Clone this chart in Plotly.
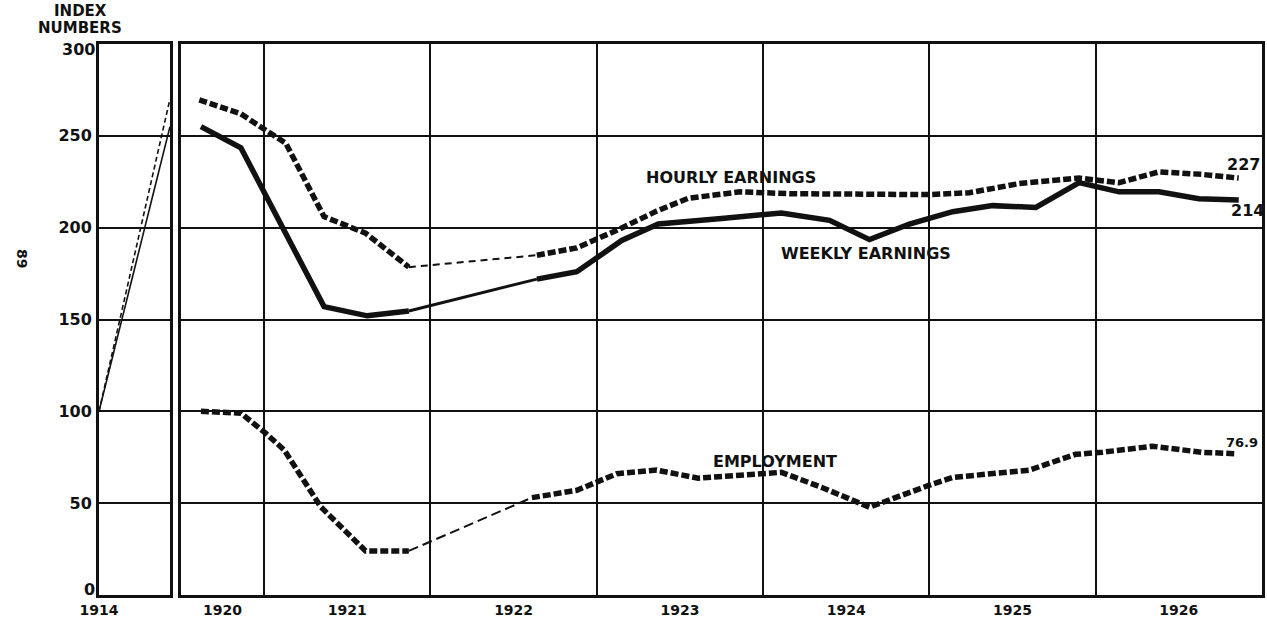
import plotly.graph_objects as go

# ---------------- data (index numbers, 1914 = 100) ----------------
base_years = [1914, 1920]
base_hourly = [100, 270]
base_weekly = [100, 255]

hourly_years = [1920.61, 1920.86, 1921.01, 1921.13, 1921.36, 1921.61, 1921.87,
                1922.64, 1922.88, 1923.13, 1923.36, 1923.55, 1923.86, 1924.16,
                1925.00, 1925.24, 1925.54, 1925.90, 1926.14, 1926.38, 1926.64, 1926.86]
hourly_values = [269.6, 262, 253, 246, 206, 197, 178.5,
                 185, 189, 199, 209, 216, 219.5, 218.5,
                 218, 219, 224, 227, 224.5, 230.4, 229, 227]
hourly_break = 7   # first index after the interpolated (thin) stretch

weekly_years = [1920.62, 1920.86, 1921.36, 1921.62, 1921.87,
                1922.64, 1922.88, 1923.15, 1923.37, 1923.75, 1924.11, 1924.40,
                1924.64, 1924.88, 1925.14, 1925.38, 1925.64, 1925.90, 1926.14,
                1926.38, 1926.62, 1926.86]
weekly_values = [255, 243.5, 157, 152, 154.6,
                 172, 176, 193, 202, 205, 208, 204,
                 193.5, 202, 208.7, 212, 211, 224.5, 219.5,
                 219.5, 215.8, 215]
weekly_break = 5

employment_years = [1920.62, 1920.86, 1921.01, 1921.12, 1921.34, 1921.61, 1921.87,
                    1922.61, 1922.88, 1923.12, 1923.36, 1923.61, 1923.96, 1924.11,
                    1924.35, 1924.64, 1925.00, 1925.14, 1925.60, 1925.88, 1926.04,
                    1926.34, 1926.64, 1926.85]
employment_values = [100, 99, 88, 79, 48, 24, 24,
                     53, 57, 66, 68, 63.6, 66.3, 66.8,
                     58.7, 47.8, 59.8, 64, 68, 76.6, 77.7,
                     81, 77.7, 76.9]
employment_break = 7

year_grid = [1921, 1922, 1923, 1924, 1925, 1926]
year_label_pos = [1920.75, 1921.5, 1922.5, 1923.5, 1924.5, 1925.5, 1926.5]
year_labels = ["1920", "1921", "1922", "1923", "1924", "1925", "1926"]
y_ticks = [0, 50, 100, 150, 200, 250, 300]
y_ticktext = ["", "50", "100", "150", "200", "250", ""]   # 0 and 300 placed inside frame

FONT = "DejaVu Sans"
BLACK = "#111111"

fig = go.Figure()

# ---- left (1914) panel ----
fig.add_trace(go.Scatter(x=base_years, y=base_weekly, mode="lines", xaxis="x", yaxis="y",
                         line=dict(color=BLACK, width=1.6), showlegend=False, hoverinfo="skip"))
fig.add_trace(go.Scatter(x=base_years, y=base_hourly, mode="lines", xaxis="x", yaxis="y",
                         line=dict(color=BLACK, width=1.6, dash="5px,3px"), showlegend=False,
                         hoverinfo="skip"))


def add_series(xs, ys, brk, thick, thin):
    segs = [(xs[:brk], ys[:brk], thick),
            (xs[brk - 1:brk + 1], ys[brk - 1:brk + 1], thin),
            (xs[brk:], ys[brk:], thick)]
    for sx, sy, st in segs:
        fig.add_trace(go.Scatter(x=sx, y=sy, mode="lines", xaxis="x2", yaxis="y2",
                                 line=dict(color=BLACK, **st), showlegend=False,
                                 hoverinfo="skip"))


add_series(hourly_years, hourly_values, hourly_break,
           dict(width=5.5, dash="8px,3px"), dict(width=2, dash="7px,5px"))
add_series(weekly_years, weekly_values, weekly_break,
           dict(width=5.5), dict(width=3))
add_series(employment_years, employment_values, employment_break,
           dict(width=5.5, dash="8px,3px"), dict(width=2, dash="10px,5px"))

axis_common = dict(showline=True, linecolor=BLACK, linewidth=3, mirror=True,
                   zeroline=False, automargin=False, ticks="")

fig.update_layout(
    template="none",
    width=1267, height=619,
    margin=dict(l=99, r=5, t=44, b=24),
    paper_bgcolor="white", plot_bgcolor="white",
    showlegend=False,
    xaxis=dict(domain=[0, 0.061], range=[1914, 1920], tickvals=[1914], ticktext=["1914"],
               showgrid=False, tickfont=dict(family=FONT, size=14, color=BLACK, weight="bold"),
               **axis_common),
    xaxis2=dict(domain=[0.0705, 1], range=[1920.5, 1927], tickvals=year_label_pos,
                ticktext=year_labels, showgrid=False,
                minor=dict(tickmode="array", tickvals=year_grid, showgrid=True,
                           gridcolor=BLACK, gridwidth=2, ticks=""),
                tickfont=dict(family=FONT, size=14, color=BLACK, weight="bold"),
                **axis_common),
    yaxis=dict(anchor="x", range=[0, 300], tickvals=y_ticks, ticktext=y_ticktext,
               showgrid=True, gridcolor=BLACK, gridwidth=2, ticklabelstandoff=1,
               tickfont=dict(family=FONT, size=16, color=BLACK, weight="bold"),
               **axis_common),
    yaxis2=dict(anchor="x2", matches="y", range=[0, 300], tickvals=y_ticks,
                showticklabels=False, showgrid=True, gridcolor=BLACK, gridwidth=2,
                **axis_common),
)

lab = dict(family=FONT, size=16, color=BLACK, weight="bold")
annots = [
    dict(text="HOURLY EARNINGS", x=1923.81, y=227.1),
    dict(text="WEEKLY EARNINGS", x=1924.62, y=185.7),
    dict(text="EMPLOYMENT", x=1924.07, y=72.9),
    dict(text="227", x=1926.89, y=234.2),
    dict(text="214", x=1926.91, y=209.1),
    dict(text="76.9", x=1926.88, y=83.0, size=13),
]
for a in annots:
    f = dict(lab)
    if "size" in a:
        f["size"] = a.pop("size")
    fig.add_annotation(xref="x2", yref="y2", showarrow=False, font=f,
                       xanchor="center", yanchor="middle", **a)

# end tick labels for the y axis (sit just inside the frame, as in the original)
tick_font = dict(family=FONT, size=16, color=BLACK, weight="bold")
fig.add_annotation(xref="paper", yref="paper", x=(97 - 99) / 1163, y=(595 - 49) / 551,
                   text=str(y_ticks[-1]), showarrow=False, xanchor="right",
                   yanchor="middle", font=tick_font)
fig.add_annotation(xref="paper", yref="paper", x=(97 - 99) / 1163, y=(595 - 589) / 551,
                   text=str(y_ticks[0]), showarrow=False, xanchor="right",
                   yanchor="middle", font=tick_font)

fig.add_annotation(xref="paper", yref="paper", x=-0.016, y=(595 - 11) / 551,
                   text="INDEX", showarrow=False, xanchor="center", yanchor="middle",
                   font=dict(family=FONT, size=15, color=BLACK, weight="bold"))
fig.add_annotation(xref="paper", yref="paper", x=-0.016, y=(595 - 28) / 551,
                   text="NUMBERS", showarrow=False, xanchor="center", yanchor="middle",
                   font=dict(family=FONT, size=15, color=BLACK, weight="bold"))
fig.add_annotation(xref="paper", yref="paper", x=(22 - 99) / 1163, y=(595 - 258) / 551,
                   text="89", showarrow=False, textangle=90, xanchor="center",
                   yanchor="middle",
                   font=dict(family=FONT, size=14, color=BLACK, weight="bold"))

fig.write_html("out.html",
               config={"displayModeBar": False},
               post_script="document.body.style.margin='0';"
                           "document.body.style.overflow='hidden';")
